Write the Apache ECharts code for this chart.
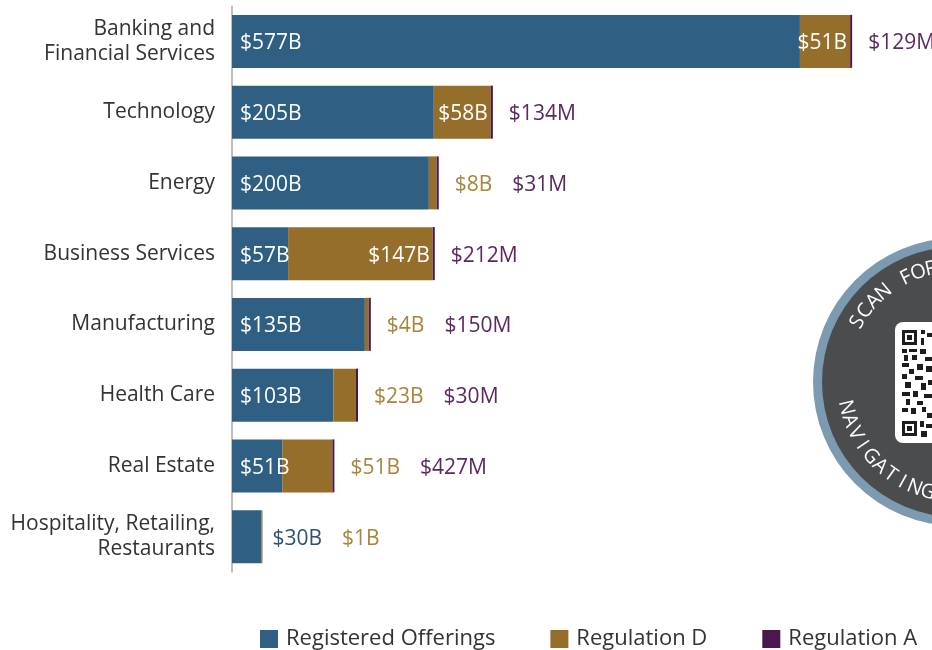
<!DOCTYPE html>
<html>
<head>
<meta charset="utf-8">
<script src="https://cdn.jsdelivr.net/npm/echarts@6/dist/echarts.min.js"></script>
<style>
  html, body { margin: 0; padding: 0; background: #fff; }
  #main { width: 932px; height: 650px; }
</style>
</head>
<body>
<div id="main"></div>
<script>
var categories = ['Banking and\nFinancial Services', 'Technology', 'Energy', 'Business Services',
    'Manufacturing', 'Health Care', 'Real Estate', 'Hospitality, Retailing,\nRestaurants'];
var registered = [577, 205, 200, 57, 135, 103, 51, 30];      // $B
var regD = [51, 58, 8, 147, 4, 23, 51, 1];                   // $B
var regA = [129, 134, 31, 212, 150, 30, 427, null];          // $M

// which value labels sit inside their bar
var regInside = [true, true, true, true, true, true, true, false];
var regDInside = [true, true, false, true, false, false, false, false];

var colors = ['#2f6083', '#946e2a', '#4a174e'];
var font = 'Open Sans';
var fs = 21;

function outsideText(i) {
    var parts = [];
    if (!regInside[i]) parts.push('{r|$' + registered[i] + 'B}');
    if (!regDInside[i]) parts.push('{d|$' + regD[i] + 'B}');
    if (regA[i] != null) parts.push('{a|$' + regA[i] + 'M}');
    return parts.join('');
}

var rich = {
    r: { color: '#2e5274', fontSize: fs, fontFamily: font, padding: [0, 20, 0, 0] },
    d: { color: '#a8853e', fontSize: fs, fontFamily: font, padding: [0, 20, 0, 0] },
    a: { color: '#5a2a5c', fontSize: fs, fontFamily: font }
};

var regData = registered.map(function (v, i) {
    return { value: v, label: { show: regInside[i] } };
});
var regDData = regD.map(function (v, i) {
    var item = { value: v, label: { show: regDInside[i] } };
    if (regA[i] == null) {
        // last piece of the stack carries the outside labels
        item.label = {
            show: true, position: 'right', distance: 10, offset: [0, 2], rich: rich,
            formatter: function () { return outsideText(i); }
        };
    }
    return item;
});
var regAData = regA.map(function (v) {
    return v == null ? null : v / 1000;
});

// badge on the right edge
var cx = 957, cy = 382;
var badge = [
    { type: 'circle', shape: { cx: cx, cy: cy, r: 144 }, style: { fill: '#7d9bb0' } },
    { type: 'circle', shape: { cx: cx, cy: cy, r: 135 }, style: { fill: '#4b4c4e' } },
    { type: 'rect', shape: { x: 895, y: 322, width: 120, height: 121, r: 8 }, style: { fill: '#fff' } }
];
var qr = [
    [902, 330, 15, 15], [902, 421, 15, 15],
    [921, 330, 4, 4], [927, 333, 5, 4], [921, 338, 3, 7], [902, 349, 5, 4], [909, 349, 8, 3],
    [920, 349, 6, 5], [904, 355, 4, 6], [912, 355, 5, 5], [925, 357, 7, 4], [902, 363, 7, 4],
    [917, 364, 6, 6], [909, 369, 5, 5], [926, 366, 6, 6], [902, 374, 5, 5], [915, 376, 8, 4],
    [905, 382, 6, 6], [921, 383, 5, 7], [928, 380, 4, 5], [902, 392, 8, 4], [913, 391, 5, 6],
    [924, 394, 8, 4], [906, 399, 4, 6], [917, 401, 6, 4], [902, 408, 6, 4], [911, 408, 5, 6],
    [922, 407, 4, 5], [927, 413, 5, 5], [920, 421, 4, 6], [926, 424, 6, 4], [921, 431, 6, 6]
];
qr.forEach(function (q, k) {
    badge.push({ type: 'rect', shape: { x: q[0], y: q[1], width: q[2], height: q[3] }, style: { fill: '#1d1d1d' } });
    if (k < 2) {
        badge.push({ type: 'rect', shape: { x: q[0] + 3, y: q[1] + 3, width: 9, height: 9 }, style: { fill: '#fff' } });
        badge.push({ type: 'rect', shape: { x: q[0] + 5, y: q[1] + 5, width: 5, height: 5 }, style: { fill: '#1d1d1d' } });
    }
});
function arcText(str, r, start, step, bottom) {
    for (var k = 0; k < str.length; k++) {
        var th = (start + step * k) * Math.PI / 180;
        var phi = bottom ? th - Math.PI / 2 : th + Math.PI / 2;
        badge.push({
            type: 'text', x: cx + r * Math.cos(th), y: cy + r * Math.sin(th), rotation: -phi,
            style: { text: str[k], fill: '#fff', font: '20px ' + font, align: 'center', verticalAlign: 'middle' }
        });
    }
}
arcText('SCAN FOR', 116, -149, 6.6, false);
arcText('NAVIGATING', 114, 167, -6.9, true);

var option = {
    animation: false,
    color: colors,
    textStyle: { fontFamily: font },
    grid: { left: 232, right: 11, top: 6, height: 566 },
    legend: {
        left: 255, top: 623, itemWidth: 18, itemHeight: 18, itemGap: 55, icon: 'rect',
        textStyle: { fontSize: 22, fontFamily: font, color: '#333', padding: [0, 0, 0, 3] },
        data: ['Registered Offerings', 'Regulation D', 'Regulation A']
    },
    xAxis: {
        type: 'value', min: 0, max: 700,
        axisLine: { show: false }, axisTick: { show: false },
        axisLabel: { show: false }, splitLine: { show: false }
    },
    yAxis: {
        type: 'category', inverse: true, data: categories,
        axisLine: { lineStyle: { color: '#aaaaaa', width: 1.5 } },
        axisTick: { show: false },
        axisLabel: { color: '#333', fontSize: fs, fontFamily: font, margin: 17, lineHeight: 25, align: 'right' }
    },
    series: [
        {
            name: 'Registered Offerings', type: 'bar', stack: 'total', barWidth: 53,
            label: { position: 'insideLeft', distance: 8, offset: [0, 2], color: '#fff', fontSize: fs, fontFamily: font,
                formatter: function (p) { return '$' + p.value + 'B'; } },
            data: regData
        },
        {
            name: 'Regulation D', type: 'bar', stack: 'total',
            label: { position: 'insideRight', distance: 3, offset: [0, 2], color: '#fff', fontSize: fs, fontFamily: font,
                formatter: function (p) { return '$' + p.value + 'B'; } },
            data: regDData
        },
        {
            name: 'Regulation A', type: 'bar', stack: 'total', barMinHeight: 2,
            label: {
                show: true, position: 'right', distance: 16, offset: [0, 2], rich: rich,
                formatter: function (p) { return outsideText(p.dataIndex); }
            },
            data: regAData
        }
    ],
    graphic: badge
};

var myChart = echarts.init(document.getElementById('main'));
myChart.setOption(option);
</script>
</body>
</html>
